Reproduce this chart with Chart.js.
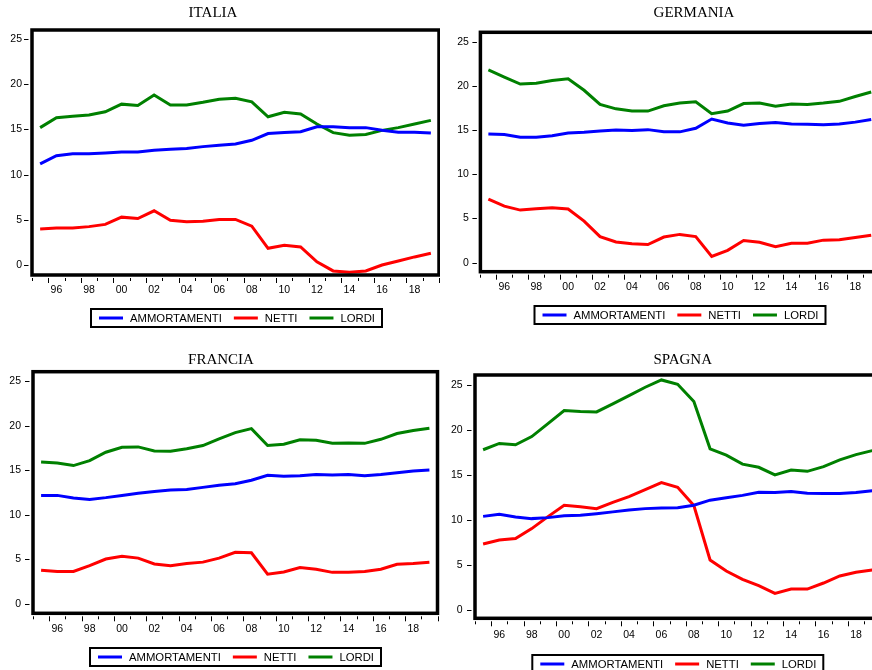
<!DOCTYPE html>
<html>
<head>
<meta charset="utf-8">
<title>Ammortamenti, netti e lordi</title>
<script src="https://cdn.jsdelivr.net/npm/chart.js@4.4.1/dist/chart.umd.min.js"></script>
<style>
  html, body { margin: 0; padding: 0; width: 872px; height: 670px; overflow: hidden; background: #fff; }
  canvas { position: absolute; }
</style>
</head>
<body>
<canvas id="italia" width="440" height="335" style="left:0;top:0"></canvas>
<canvas id="germania" width="440" height="335" style="left:448px;top:0"></canvas>
<canvas id="francia" width="440" height="330" style="left:0;top:340px"></canvas>
<canvas id="spagna" width="440" height="330" style="left:448px;top:340px"></canvas>
<script>
// years on the x axis, shown as two digits every other year
const years = ['1995', '1996', '1997', '1998', '1999', '2000', '2001', '2002', '2003', '2004',
  '2005', '2006', '2007', '2008', '2009', '2010', '2011', '2012', '2013', '2014',
  '2015', '2016', '2017', '2018', '2019'];
const yTicks = [0, 5, 10, 15, 20, 25];
const seriesNames = ['AMMORTAMENTI', 'NETTI', 'LORDI'];
const seriesColors = ['#0000ff', '#ff0000', '#008000'];

const italiaAmmortamenti = [11.2, 12.1, 12.3, 12.3, 12.4, 12.5, 12.5, 12.7, 12.8, 12.9, 13.1, 13.25, 13.4, 13.8, 14.55, 14.65, 14.75, 15.3, 15.3, 15.2, 15.2, 14.9, 14.7, 14.7, 14.6];
const italiaNetti = [4.0, 4.1, 4.1, 4.25, 4.5, 5.3, 5.15, 6.0, 4.95, 4.8, 4.85, 5.05, 5.05, 4.3, 1.85, 2.2, 2.0, 0.35, -0.65, -0.8, -0.65, 0.0, 0.45, 0.9, 1.3];
const italiaLordi = [15.2, 16.3, 16.45, 16.6, 16.95, 17.8, 17.65, 18.8, 17.7, 17.7, 18.0, 18.35, 18.45, 18.05, 16.4, 16.9, 16.7, 15.6, 14.65, 14.35, 14.45, 14.9, 15.2, 15.6, 16.0];

const germaniaAmmortamenti = [14.56, 14.5, 14.2, 14.2, 14.35, 14.67, 14.75, 14.9, 15.0, 14.95, 15.05, 14.8, 14.8, 15.2, 16.25, 15.8, 15.55, 15.75, 15.85, 15.7, 15.65, 15.6, 15.7, 15.9, 16.2];
const germaniaNetti = [7.2, 6.4, 5.95, 6.1, 6.2, 6.07, 4.7, 2.95, 2.35, 2.15, 2.05, 2.9, 3.2, 2.95, 0.7, 1.4, 2.5, 2.3, 1.8, 2.2, 2.2, 2.55, 2.6, 2.85, 3.1];
const germaniaLordi = [21.8, 21.0, 20.2, 20.3, 20.6, 20.8, 19.5, 17.9, 17.4, 17.15, 17.15, 17.75, 18.05, 18.2, 16.85, 17.15, 18.0, 18.05, 17.7, 17.95, 17.9, 18.05, 18.25, 18.8, 19.3];

const franciaAmmortamenti = [12.2, 12.2, 11.9, 11.75, 11.95, 12.2, 12.45, 12.65, 12.8, 12.85, 13.1, 13.35, 13.5, 13.9, 14.45, 14.35, 14.4, 14.55, 14.5, 14.55, 14.4, 14.55, 14.75, 14.95, 15.05];
const franciaNetti = [3.8, 3.65, 3.65, 4.3, 5.05, 5.35, 5.15, 4.5, 4.3, 4.55, 4.7, 5.15, 5.8, 5.75, 3.35, 3.6, 4.1, 3.9, 3.55, 3.55, 3.65, 3.9, 4.45, 4.55, 4.7];
const franciaLordi = [15.95, 15.85, 15.55, 16.1, 17.05, 17.6, 17.65, 17.2, 17.15, 17.45, 17.8, 18.55, 19.25, 19.7, 17.8, 17.95, 18.45, 18.4, 18.05, 18.1, 18.05, 18.5, 19.15, 19.5, 19.75];

const spagnaAmmortamenti = [10.4, 10.63, 10.33, 10.15, 10.26, 10.48, 10.52, 10.7, 10.9, 11.1, 11.26, 11.33, 11.37, 11.63, 12.2, 12.47, 12.73, 13.07, 13.04, 13.15, 12.96, 12.93, 12.93, 13.04, 13.25];
const spagnaNetti = [7.33, 7.78, 7.93, 9.04, 10.37, 11.63, 11.48, 11.26, 11.96, 12.59, 13.37, 14.15, 13.63, 11.6, 5.56, 4.33, 3.41, 2.7, 1.85, 2.33, 2.33, 3.0, 3.78, 4.19, 4.44];
const spagnaLordi = [17.8, 18.5, 18.35, 19.26, 20.7, 22.15, 22.04, 22.0, 22.9, 23.8, 24.74, 25.55, 25.07, 23.15, 17.9, 17.2, 16.2, 15.85, 15.0, 15.55, 15.4, 15.93, 16.67, 17.26, 17.7];

Chart.defaults.color = '#000';
Chart.defaults.font.family = "'Liberation Sans', Arial, sans-serif";

// EViews-like look: thick frame, outside tick marks, boxed legend, serif title
const eviewsPlugin = {
  id: 'eviews',
  afterDatasetsDraw(chart, args, opts) {
    const { ctx, chartArea: a } = chart;
    const x = chart.scales.x, y = chart.scales.y;
    ctx.save();
    ctx.strokeStyle = '#000';
    ctx.lineWidth = 1;
    ctx.beginPath();
    y.ticks.forEach(t => {
      const py = Math.round(y.getPixelForValue(t.value)) + 0.5;
      ctx.moveTo(a.left - 8, py);
      ctx.lineTo(a.left - 3.5, py);
    });
    for (let i = 0; i <= years.length; i++) {
      const px = Math.round(x.getPixelForValue(i - 0.5)) + 0.5;
      const tall = (1995 + i) % 2 === 0;
      ctx.moveTo(px, a.bottom + 3);
      ctx.lineTo(px, a.bottom + (tall ? 8 : 6));
    }
    ctx.stroke();
    ctx.lineWidth = 3.5;
    ctx.strokeRect(a.left, a.top, a.right - a.left, a.bottom - a.top);
    ctx.restore();
  },
  afterDraw(chart, args, opts) {
    const ctx = chart.ctx;
    ctx.save();
    // title
    ctx.fillStyle = '#000';
    ctx.font = "15px 'Liberation Serif', 'Times New Roman', serif";
    ctx.textAlign = 'center';
    ctx.textBaseline = 'middle';
    ctx.fillText(opts.title, opts.titleX, opts.titleY);

    // legend box
    ctx.font = "11.3px 'Liberation Sans', Arial, sans-serif";
    ctx.textAlign = 'left';
    const items = chart.data.datasets.map(ds => ({
      label: ds.label, color: ds.borderColor, w: ctx.measureText(ds.label).width
    }));
    const sample = 24, padL = 8, padR = 7, gapText = 7, gapItem = 12, boxH = 18;
    let total = padL + padR;
    items.forEach((it, i) => { total += sample + gapText + it.w + (i ? gapItem : 0); });
    const lx = opts.legendX - total / 2;
    const ly = opts.legendY;
    ctx.strokeStyle = '#000';
    ctx.lineWidth = 2;
    ctx.strokeRect(lx, ly, total, boxH);
    let cx = lx + padL;
    const cy = ly + boxH / 2;
    items.forEach((it, i) => {
      if (i) cx += gapItem;
      ctx.strokeStyle = it.color;
      ctx.lineWidth = 3;
      ctx.beginPath();
      ctx.moveTo(cx, cy);
      ctx.lineTo(cx + sample, cy);
      ctx.stroke();
      cx += sample + gapText;
      ctx.fillText(it.label, cx, cy + 0.5);
      cx += it.w;
    });
    ctx.restore();
  }
};

const panels = [
  { id: 'italia', title: 'ITALIA', series: [italiaAmmortamenti, italiaNetti, italiaLordi],
    yMin: -1.1, yMax: 26.0, pad: { top: 30, right: 1, bottom: 0, left: 0 }, yWidth: 32, xHeight: 60,
    yLabelPad: 10, xLabelPad: 9, titleX: 213, titleY: 13.5, legendX: 236.5, legendY: 309 },
  { id: 'germania', title: 'GERMANIA', series: [germaniaAmmortamenti, germaniaNetti, germaniaLordi],
    yMin: -1.02, yMax: 26.06, pad: { top: 32.3, right: 8.8, bottom: 0, left: 0 }, yWidth: 32.4, xHeight: 63.3,
    yLabelPad: 11.5, xLabelPad: 9, titleX: 246, titleY: 13.5, legendX: 232, legendY: 306 },
  { id: 'francia', title: 'FRANCIA', series: [franciaAmmortamenti, franciaNetti, franciaLordi],
    yMin: -1.05, yMax: 26.1, pad: { top: 31.7, right: 2.5, bottom: 0, left: 0 }, yWidth: 33, xHeight: 56.7,
    yLabelPad: 12, xLabelPad: 9.7, titleX: 221, titleY: 20, legendX: 235.5, legendY: 308 },
  { id: 'spagna', title: 'SPAGNA', series: [spagnaAmmortamenti, spagnaNetti, spagnaLordi],
    yMin: -0.92, yMax: 26.1, pad: { top: 35, right: 7.7, bottom: 0, left: 0 }, yWidth: 27, xHeight: 51.7,
    yLabelPad: 12.3, xLabelPad: 10.4, titleX: 234.7, titleY: 20, legendX: 229.8, legendY: 315 }
];

panels.forEach(p => {
  new Chart(document.getElementById(p.id), {
    type: 'line',
    data: {
      labels: years,
      datasets: p.series.map((values, i) => ({
        label: seriesNames[i],
        data: values,
        borderColor: seriesColors[i],
        backgroundColor: seriesColors[i],
        borderWidth: 3,
        pointRadius: 0,
        tension: 0,
        fill: false
      }))
    },
    options: {
      responsive: false,
      animation: false,
      events: [],
      layout: { padding: p.pad },
      plugins: {
        legend: { display: false },
        title: { display: false },
        tooltip: { enabled: false },
        eviews: { title: p.title, titleX: p.titleX, titleY: p.titleY, legendX: p.legendX, legendY: p.legendY }
      },
      scales: {
        x: {
          type: 'category',
          offset: true,
          grid: { display: false, drawTicks: false },
          border: { display: false },
          ticks: {
            autoSkip: false,
            maxRotation: 0,
            padding: p.xLabelPad,
            font: { size: 10.5 },
            callback: (val, i) => (Number(years[i]) % 2 === 0 ? years[i].slice(2) : '')
          },
          afterFit: s => { s.height = p.xHeight; }
        },
        y: {
          min: p.yMin,
          max: p.yMax,
          grid: { display: false, drawTicks: false },
          border: { display: false },
          ticks: { padding: p.yLabelPad, font: { size: 10.5 } },
          afterBuildTicks: s => { s.ticks = yTicks.map(v => ({ value: v })); },
          afterFit: s => { s.width = p.yWidth; }
        }
      }
    },
    plugins: [eviewsPlugin]
  });
});
</script>
</body>
</html>
